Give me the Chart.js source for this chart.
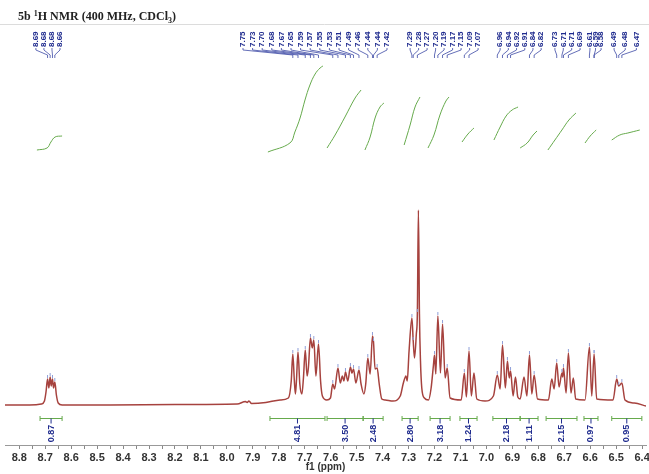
<!DOCTYPE html>
<html>
<head>
<meta charset="utf-8">
<script src="https://cdn.jsdelivr.net/npm/chart.js@4.4.0/dist/chart.umd.min.js"></script>
<style>
    html, body { margin: 0; padding: 0; background: #fff; }
</style>
</head>
<body>
<canvas id="nmrChart" width="649" height="474"></canvas>
<script>
// Spectrum trace: shift (ppm) and height above baseline
const shiftPpm = [
    8.855, 8.760, 8.715, 8.703, 8.697, 8.691, 8.686, 8.681, 8.677, 8.672, 8.668, 8.663, 8.657, 8.650, 8.635,
    8.450, 8.200, 7.960, 7.928, 7.922, 7.915, 7.905, 7.850,
    7.795, 7.763, 7.752, 7.746, 7.740, 7.736, 7.732, 7.726, 7.719, 7.711, 7.705, 7.698, 7.691, 7.686,
    7.678, 7.671, 7.665, 7.657, 7.647, 7.639, 7.632, 7.615, 7.601, 7.592, 7.585, 7.572, 7.563, 7.555,
    7.549, 7.543, 7.534, 7.524, 7.518, 7.512, 7.503, 7.491, 7.483, 7.472, 7.465, 7.457, 7.448, 7.439,
    7.435, 7.429, 7.421, 7.413, 7.403, 7.390,
    7.360, 7.332, 7.320, 7.310, 7.305, 7.298, 7.287, 7.282, 7.277, 7.270, 7.266, 7.262, 7.258, 7.254,
    7.249, 7.239, 7.223, 7.213, 7.204, 7.200, 7.195, 7.187, 7.177, 7.169, 7.159, 7.151, 7.140, 7.097,
    7.085, 7.077, 7.067, 7.058, 7.048, 7.037, 7.005,
    6.973, 6.958, 6.947, 6.938, 6.927, 6.919, 6.912, 6.907, 6.897, 6.888, 6.879, 6.870, 6.855, 6.844,
    6.834, 6.825, 6.816, 6.803, 6.761, 6.748, 6.739, 6.729, 6.720, 6.709, 6.706, 6.703, 6.693, 6.684,
    6.674, 6.665, 6.656, 6.620, 6.603, 6.594, 6.585, 6.575, 6.512, 6.498, 6.490, 6.478, 6.466, 6.430,
    6.385
];
const intensity = [
    -1, -1, 0, 3, 12, 25, 16, 27, 18, 25, 16, 22, 9, 1, -1,
    -1, -0.5, 0, 2.5, 1.5, 3, 0.5, 1.5,
    4, 6, 23, 50, 23, 10, 23, 52, 20, 10, 26, 54, 28, 36,
    66, 56, 64, 28, 60, 23, 8, 4, 6, 20, 15, 36, 21, 28,
    23, 32, 23, 37, 31, 35, 21, 34, 20, 10, 20, 46, 30, 68,
    62, 35, 36, 20, 5, 4,
    3, 8, 21, 28, 23, 53, 86, 63, 46, 70, 91, 194, 90, 43,
    16, 6, 4, 16, 39, 49, 30, 88, 31, 80, 26, 36, 6, 4,
    31, 7, 53, 8, 31, 5, 3,
    8, 29, 15, 59, 16, 43, 26, 33, 8, 27, 7, 5, 27, 8,
    49, 10, 29, 5, 4, 25, 15, 41, 17, 31, 27, 36, 11, 51,
    11, 26, 5, 4, 57, 8, 50, 5, 4, 25, 18, 21, 4, 1,
    -2
];

// Picked peaks and their printed labels
const peakPpm = [
    8.691, 8.681, 8.672, 8.663,
    7.746, 7.726, 7.698, 7.678, 7.665, 7.647, 7.592, 7.572, 7.543, 7.524, 7.512, 7.491, 7.457, 7.439, 7.435, 7.421,
    7.287, 7.282, 7.266, 7.200, 7.187, 7.169, 7.151, 7.085, 7.067,
    6.958, 6.938, 6.919, 6.907, 6.834, 6.816,
    6.729, 6.709, 6.703, 6.684,
    6.603, 6.585, 6.585,
    6.498, 6.490, 6.478
];
const peakText = [
    '8.69', '8.68', '8.68', '8.66',
    '7.75', '7.73', '7.70', '7.68', '7.67', '7.65', '7.59', '7.57', '7.55', '7.53', '7.51', '7.49', '7.46', '7.44', '7.44', '7.42',
    '7.29', '7.28', '7.27', '7.20', '7.19', '7.17', '7.15', '7.09', '7.07',
    '6.96', '6.94', '6.92', '6.91', '6.84', '6.82',
    '6.73', '6.71', '6.71', '6.69',
    '6.61', '6.59', '6.58',
    '6.49', '6.48', '6.47'
];

// Integral regions
const integralFrom = [8.720, 7.834, 7.614, 7.475, 7.325, 7.217, 7.102, 6.975, 6.870, 6.770, 6.624, 6.517];
const integralTo = [8.635, 7.622, 7.475, 7.398, 7.263, 7.140, 7.036, 6.870, 6.801, 6.651, 6.570, 6.401];
const integralValue = ['0.87', '4.81', '3.50', '2.48', '2.80', '3.18', '1.24', '2.18', '1.11', '2.15', '0.97', '0.95'];

// Integral curves (ppm, level)
const intCurvePpm = [
    [8.732, 8.693, 8.678, 8.662, 8.635],
    [7.842, 7.757, 7.738, 7.718, 7.699, 7.680, 7.660, 7.641, 7.630],
    [7.614, 7.583, 7.545, 7.506, 7.483],
    [7.468, 7.448, 7.429, 7.410, 7.395],
    [7.317, 7.294, 7.275, 7.256],
    [7.225, 7.202, 7.179, 7.156, 7.144],
    [7.094, 7.071, 7.048],
    [6.971, 6.947, 6.924, 6.901, 6.878],
    [6.870, 6.843, 6.820, 6.805],
    [6.763, 6.736, 6.709, 6.682, 6.655],
    [6.620, 6.600, 6.577],
    [6.517, 6.486, 6.455, 6.409]
];
const intCurveLevel = [
    [254, 256, 262, 267, 268],
    [252, 261, 272, 286, 304, 319, 330, 336, 338],
    [256, 269, 287, 306, 314],
    [254, 267, 286, 297, 301],
    [259, 279, 297, 307],
    [256, 269, 289, 303, 307],
    [262, 270, 276],
    [264, 277, 288, 294, 297],
    [256, 261, 269, 273],
    [254, 264, 274, 284, 291],
    [261, 268, 274],
    [264, 269, 271, 274]
];

// Axis tick labels
const tickLabels = ['8.8', '8.7', '8.6', '8.5', '8.4', '8.3', '8.2', '8.1', '8.0', '7.9', '7.8', '7.7', '7.6',
    '7.5', '7.4', '7.3', '7.2', '7.1', '7.0', '6.9', '6.8', '6.7', '6.6', '6.5', '6.4'];

const BLUE = '#1f2b8e';
const GREEN = '#66aa4c';
const TRACE = '#a6423e';

// How the peak labels are spread out above the spectrum (first/last label index, ppm of first/last label slot)
const labelSpread = [
    { first: 0, last: 3, left: 8.736, right: 8.643 },
    { first: 4, last: 19, left: 7.938, right: 7.383 },
    { first: 20, last: 28, left: 7.294, right: 7.032 },
    { first: 29, last: 34, left: 6.947, right: 6.789 },
    { first: 35, last: 38, left: 6.736, right: 6.639 },
    { first: 39, last: 41, left: 6.601, right: 6.558 },
    { first: 42, last: 44, left: 6.508, right: 6.422 }
];

const majorTicks = tickLabels.map(Number);
const tickValues = [];
majorTicks.forEach((v, i) => {
    tickValues.push(v);
    if (i < majorTicks.length - 1) tickValues.push((v + majorTicks[i + 1]) / 2);
});

function nearestIndex(ppm) {
    let best = 0;
    shiftPpm.forEach((v, i) => {
        if (Math.abs(v - ppm) < Math.abs(shiftPpm[best] - ppm)) best = i;
    });
    return best;
}

function rotatedText(ctx, text, x, y) {
    ctx.save();
    ctx.translate(x, y);
    ctx.rotate(-Math.PI / 2);
    ctx.fillText(text, 0, 0);
    ctx.restore();
}

const nmrAnnotations = {
    id: 'nmrAnnotations',
    afterDraw(chart) {
        const { ctx, chartArea, scales: { x, y } } = chart;
        const top = chartArea.top;
        ctx.save();

        // frame line under the title
        ctx.strokeStyle = '#dcdcdc';
        ctx.lineWidth = 1;
        ctx.beginPath();
        ctx.moveTo(0, top + 0.5);
        ctx.lineTo(chart.width, top + 0.5);
        ctx.stroke();

        // title with super/subscript
        const runs = [['5b ', 0, 12], ['1', -4, 8], ['H NMR (400 MHz, CDCl', 0, 12], ['3', 3, 8], [')', 0, 12]];
        let tx = 18;
        ctx.fillStyle = '#222';
        ctx.textBaseline = 'alphabetic';
        ctx.textAlign = 'left';
        runs.forEach(([t, dy, size]) => {
            ctx.font = 'bold ' + size + 'px "Liberation Serif", "Times New Roman", serif';
            ctx.fillText(t, tx, 20 + dy);
            tx += ctx.measureText(t).width;
        });

        // peak labels, connectors, and peak markers
        ctx.font = 'bold 8px "Liberation Sans", Arial, sans-serif';
        ctx.textAlign = 'left';
        ctx.textBaseline = 'middle';
        labelSpread.forEach(g => {
            const xl = x.getPixelForValue(g.left);
            const xr = x.getPixelForValue(g.right);
            const n = g.last - g.first;
            for (let i = g.first; i <= g.last; i++) {
                const lx = n ? xl + (xr - xl) * (i - g.first) / n : xl;
                const px = x.getPixelForValue(peakPpm[i]);
                ctx.fillStyle = BLUE;
                rotatedText(ctx, peakText[i], lx, top + 23);
                ctx.strokeStyle = '#3d4aa6';
                ctx.lineWidth = 0.8;
                ctx.beginPath();
                ctx.moveTo(lx, top + 24);
                ctx.lineTo(lx, top + 26);
                ctx.lineTo(px, top + 31);
                ctx.lineTo(px, top + 34);
                ctx.stroke();

                const k = nearestIndex(peakPpm[i]);
                const py = y.getPixelForValue(intensity[k]);
                ctx.strokeStyle = '#8f9fd8';
                ctx.lineWidth = 1;
                ctx.beginPath();
                ctx.moveTo(px, py - 1);
                ctx.lineTo(px, py - 4);
                ctx.stroke();
            }
        });

        // integral bars and values
        const yb = Math.round(y.getPixelForValue(-14)) + 0.5;
        integralFrom.forEach((a, i) => {
            const x0 = x.getPixelForValue(a);
            const x1 = x.getPixelForValue(integralTo[i]);
            const xm = (x0 + x1) / 2;
            ctx.strokeStyle = GREEN;
            ctx.lineWidth = 1;
            ctx.beginPath();
            ctx.moveTo(x0, yb); ctx.lineTo(x1, yb);
            ctx.moveTo(x0, yb - 2.5); ctx.lineTo(x0, yb + 2.5);
            ctx.moveTo(x1, yb - 2.5); ctx.lineTo(x1, yb + 2.5);
            ctx.stroke();
            ctx.strokeStyle = BLUE;
            ctx.beginPath();
            ctx.moveTo(xm, yb); ctx.lineTo(xm, yb + 5);
            ctx.stroke();
            ctx.fillStyle = BLUE;
            ctx.font = 'bold 9px "Liberation Sans", Arial, sans-serif';
            ctx.textAlign = 'center';
            ctx.textBaseline = 'middle';
            rotatedText(ctx, integralValue[i], xm, yb + 15);
        });

        ctx.restore();
    }
};

const datasets = [{
    data: shiftPpm.map((v, i) => ({ x: v, y: intensity[i] })),
    borderColor: TRACE,
    borderWidth: 1.5,
    pointRadius: 0,
    cubicInterpolationMode: 'monotone'
}];
intCurvePpm.forEach((ppm, k) => {
    datasets.push({
        data: ppm.map((v, i) => ({ x: v, y: intCurveLevel[k][i] })),
        borderColor: GREEN,
        borderWidth: 1,
        pointRadius: 0,
        tension: 0.4
    });
});

new Chart(document.getElementById('nmrChart'), {
    type: 'line',
    data: { datasets },
    plugins: [nmrAnnotations],
    options: {
        responsive: false,
        animation: false,
        layout: { padding: { left: 5, right: 3, top: 24, bottom: 0 } },
        plugins: {
            legend: { display: false },
            tooltip: { enabled: false }
        },
        scales: {
            x: {
                type: 'linear',
                reverse: true,
                min: 6.385,
                max: 8.855,
                afterBuildTicks: s => { s.ticks = tickValues.map(v => ({ value: v })); },
                afterFit: s => { s.height = 29; s.paddingLeft = 0; s.paddingRight = 0; },
                ticks: {
                    autoSkip: false,
                    maxRotation: 0,
                    padding: 2,
                    color: '#333',
                    font: { family: '"Liberation Sans", Arial, sans-serif', size: 11, weight: 'bold' },
                    callback: v => {
                        const i = majorTicks.findIndex(m => Math.abs(m - v) < 1e-6);
                        return i >= 0 ? tickLabels[i] : '';
                    }
                },
                grid: {
                    drawOnChartArea: false,
                    tickLength: 4,
                    tickColor: '#888'
                },
                border: { color: '#999', width: 1 },
                title: {
                    display: true,
                    text: 'f1 (ppm)',
                    color: '#333',
                    font: { family: '"Liberation Sans", Arial, sans-serif', size: 10, weight: 'bold' },
                    padding: { top: 0, bottom: 1 }
                }
            },
            y: { display: false, min: -41, max: 380 }
        }
    }
});
</script>
</body>
</html>
